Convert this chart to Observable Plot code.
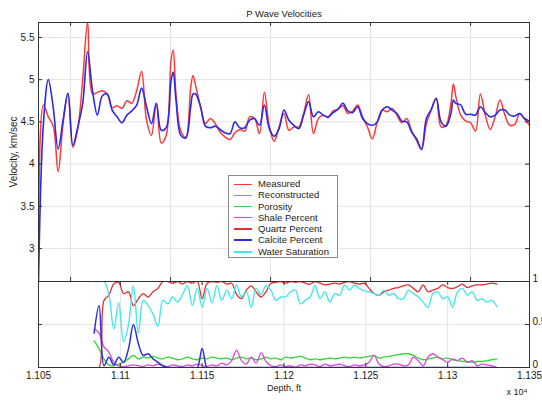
<!DOCTYPE html>
<html><head><meta charset="utf-8">
<script src="https://cdn.jsdelivr.net/npm/d3@7"></script>
<script src="https://cdn.jsdelivr.net/npm/@observablehq/plot@0.6"></script>
<style>
body{margin:0;background:#fff;}
#chart{position:relative;width:542px;height:400px;font-family:"Liberation Sans",Arial,sans-serif;overflow:hidden;}
#chart svg{display:block;}
.legend{position:absolute;left:228px;top:175px;width:108px;height:81px;border:1px solid #8a8a8a;background:#fff;}
.row{position:absolute;left:0;height:12px;width:106px;font-size:9.5px;line-height:12px;color:#222;}
.sw{position:absolute;left:5px;width:18px;height:0;}
.lb{position:absolute;left:29px;top:0;white-space:nowrap;}
</style></head><body><div id="chart"></div>
<script>
// ---- top panel: P wave velocity (depth in ft) ----
const depthTop = [11050,11053,11056,11059,11062,11065,11068,11071,11074,11077,11080,11083,11086,11089,11092,11095,11098,11101,11104,11107,11110,11113,11116,11119,11122,11125,11128,11131,11132.3,11134,11137,11140,11143,11144.4,11146,11149,11152,11155,11158,11161,11164,11167,11170,11173,11176,11179,11182,11185,11188,11191,11194,11197,11200,11203,11206,11209,11212,11215,11218,11221,11224,11227,11230,11233,11236,11239,11242,11245,11248,11251,11254,11257,11260,11263,11266,11269,11272,11275,11278,11281,11284,11287,11290,11293,11296,11299,11302,11303.5,11305,11308,11311,11314,11317,11320,11323,11326,11329,11332,11335,11338,11341,11344,11347,11350];
const measured = [3.12,4.70,4.56,4.45,3.91,4.48,4.84,4.20,4.42,5.00,
5.68,4.83,4.85,4.87,4.83,4.67,4.69,4.66,4.75,4.72,
4.87,5.10,4.52,4.34,4.72,4.25,4.34,5.23,5.35,
4.83,4.39,4.32,4.91,5.05,
4.93,4.68,4.48,4.54,4.48,4.38,4.32,4.29,
4.37,4.41,4.39,4.56,4.54,4.36,4.85,4.45,4.27,4.44,
4.60,4.40,4.44,4.44,4.60,4.82,4.36,4.54,4.58,4.55,
4.63,4.65,4.69,4.60,4.63,4.70,4.56,4.44,4.30,4.50,
4.64,4.62,4.66,4.58,4.49,4.54,4.39,4.28,4.17,4.48,
4.64,4.78,4.44,4.46,4.72,4.95,
4.80,4.58,4.51,4.49,4.39,
4.83,4.58,4.41,4.56,4.76,4.58,4.46,4.47,4.60,4.53,4.46];
const reconstructed = [2.62,4.48,5.00,4.67,4.18,4.52,4.84,4.22,4.44,4.72,
5.33,4.87,4.58,4.81,4.83,4.64,4.56,4.49,4.58,4.63,
4.70,4.90,4.68,4.48,4.72,4.40,4.43,4.99,5.09,
4.76,4.34,4.31,4.68,4.83,
4.83,4.68,4.45,4.43,4.45,4.41,4.37,4.36,
4.50,4.43,4.43,4.52,4.54,4.46,4.70,4.42,4.33,4.42,
4.64,4.52,4.46,4.42,4.58,4.74,4.56,4.62,4.58,4.56,
4.61,4.65,4.72,4.63,4.61,4.68,4.54,4.48,4.46,4.50,
4.64,4.68,4.64,4.60,4.51,4.50,4.38,4.30,4.18,4.54,
4.65,4.78,4.50,4.45,4.60,4.76,
4.72,4.70,4.59,4.59,4.58,
4.68,4.61,4.56,4.58,4.64,4.64,4.58,4.57,4.60,4.54,4.51];

// ---- bottom panel: log fractions ----
const depthLog = [11084,11087,11090,11093,11096,11099,11102,11105,11108,11111,
11114,11117,11120,11123,11126,11129,11132,11135,11138,11141,
11144,11147,11150,11153,11156,11159,11162,11165,11168,11171,
11174,11177,11180,11183,11186,11189,11192,11195,11198,11201,
11204,11207,11210,11213,11216,11219,11222,11225,11228,11231,
11234,11237,11240,11243,11246,11249,11252,11255,11258,11261,
11264,11267,11270,11273,11276,11279,11282,11285,11288,11291,
11294,11297,11300,11303,11306,11309,11312,11315,11318,11321,
11324,11327,11330];
const porosity = [0.31,0.22,0.10,0.03,0.02,0.04,0.06,0.10,0.14,0.10,
0.12,0.11,0.13,0.11,0.10,0.12,0.11,0.09,0.10,0.12,
0.10,0.09,0.11,0.10,0.12,0.11,0.10,0.11,0.09,0.11,
0.12,0.10,0.11,0.09,0.10,0.12,0.10,0.11,0.09,0.12,
0.11,0.12,0.13,0.11,0.09,0.10,0.09,0.10,0.11,0.10,
0.11,0.12,0.11,0.12,0.11,0.12,0.13,0.14,0.11,0.12,
0.13,0.14,0.15,0.16,0.16,0.14,0.11,0.09,0.10,0.11,
0.12,0.10,0.11,0.09,0.08,0.07,0.07,0.06,0.07,0.07,
0.08,0.09,0.10];
const shale = [0.45,0.40,0.24,0.18,0.06,0.02,0.01,0.02,0.03,0.02,
0.01,0.03,0.02,0.04,0.02,0.01,0.03,0.02,0.01,0.03,
0.02,0.04,0.02,0.01,0.03,0.02,0.05,0.03,0.08,0.20,
0.08,0.04,0.12,0.05,0.17,0.07,0.02,0.01,0.03,0.01,
0.02,0.00,0.03,0.02,0.04,0.03,0.01,0.04,0.02,0.03,
0.04,0.02,0.01,0.03,0.02,0.03,0.06,0.14,0.04,0.01,
0.02,0.04,0.04,0.02,0.03,0.12,0.08,0.02,0.12,0.16,
0.12,0.09,0.06,0.10,0.08,0.11,0.06,0.08,0.02,0.04,
0.03,0.02,0.00];
const quartz = [0,0,0.78,0.84,0.97,0.99,0.86,0.88,0.72,0.80,
0.86,0.82,0.88,0.92,1,1,0.98,1,0.97,1,
0.98,1,0.80,0.98,1,0.99,1,0.97,0.98,0.85,
0.80,0.90,0.95,0.88,0.82,0.88,0.98,0.99,1,0.98,
1,0.99,1,0.98,0.97,1,0.98,0.96,0.97,0.98,
0.97,0.99,1,0.98,0.97,0.98,0.92,0.86,0.84,0.88,
0.90,0.92,0.93,0.95,0.96,0.92,0.88,0.96,0.88,0.90,
0.92,0.96,0.93,0.92,0.94,0.97,0.93,0.95,0.96,0.96,
0.97,0.98,0.97];
const calcite = [0.40,0.72,0.02,0.12,0.03,0.12,0.06,0.22,0.50,0.28,
0.14,0.16,0.10,0.06,0.02,0,0,0,0,0,
0,0,0.22,0,0,0,0,0,0,0,
0,0,0,0,0,0,0,0,0,0,
0,0,0,0,0,0,0,0,0,0,
0,0,0,0,0,0,0,0,0,0,
0,0,0,0,0,0,0,0,0,0,
0,0,0,0,0,0,0,0,0,0,
0,0,0];
const water = [1,1,1,0.85,0.45,0.75,0.30,0.50,0.95,0.40,
0.78,0.72,0.62,0.48,0.78,0.74,0.82,0.76,0.85,0.95,
0.72,0.92,0.70,0.92,0.75,0.95,0.78,0.90,0.80,0.96,
0.82,0.88,0.70,0.92,0.85,0.95,0.90,0.78,0.82,0.82,
0.88,0.90,0.74,0.78,0.82,0.95,0.80,0.88,0.76,0.86,
0.84,0.96,0.90,0.96,0.92,0.89,0.88,0.86,0.84,0.90,
0.84,0.86,0.80,0.80,0.90,0.86,0.82,0.76,0.70,0.86,
0.88,0.80,0.82,0.70,0.88,0.92,0.84,0.88,0.78,0.80,
0.76,0.78,0.71];

// ---- ticks ----
const velocityTicks = [3, 3.5, 4, 4.5, 5, 5.5];
const velocityTickLabels = ["3", "3.5", "4", "4.5", "5", "5.5"];
const topGridDepths = [11069.6, 11130.7, 11191.8, 11252.9, 11314.0];
const depthTicks = [11050, 11100, 11150, 11200, 11250, 11300, 11350];
const depthTickLabels = ["1.105", "1.11", "1.115", "1.12", "1.125", "1.13", "1.135"];
const fractionTicks = [0, 0.5, 1];
const fractionTickLabels = ["0", "0.5", "1"];

// ---- legend ----
const legendNames = ["Measured", "Reconstructed", "Porosity", "Shale Percent", "Quartz Percent", "Calcite Percent", "Water Saturation"];
const legendColors = ["#ff3838", "#8c8cff", "#33d633", "#dd44dd", "#dd3030", "#2e2ee0", "#44e8ee"];
const legendWidths = [1, 1, 1.5, 1, 2, 2, 2];

const W = 542, ML = 38, MR = 13;
const frameW = W - ML - MR;
const topH = 281, topMT = 22, topFrameH = topH - topMT;
const botH = 119, botMB = 33, botFrameH = botH - botMB;
const T = 4;
const gridColor = "#e4e4e4", axisColor = "#333";
const font = {fontFamily: "Liberation Sans, Arial, sans-serif", fontSize: "10px", color: "#1a1a1a", background: "transparent", overflow: "visible"};

const topRows = depthTop.map((d, i) => ({d, m: measured[i], r: reconstructed[i]}));

const topPlot = Plot.plot({
  width: W, height: topH, marginLeft: ML, marginRight: MR, marginTop: topMT, marginBottom: 0,
  style: font,
  x: {domain: [11050, 11350], axis: null},
  y: {domain: [2.61, 5.677]},
  marks: [
    Plot.ruleX(topGridDepths, {stroke: gridColor}),
    Plot.ruleY(velocityTicks, {stroke: gridColor}),
    Plot.line(topRows, {x: "d", y: "m", stroke: legendColors[0], strokeWidth: 1.5, curve: "catmull-rom", clip: true}),
    Plot.line(topRows, {x: "d", y: "r", stroke: "#2a2ae8", strokeWidth: 1.6, curve: "catmull-rom", clip: true}),
    Plot.ruleY(velocityTicks, {stroke: axisColor, insetRight: frameW - T}),
    Plot.ruleY(velocityTicks, {stroke: axisColor, insetLeft: frameW - T}),
    Plot.ruleX(topGridDepths, {stroke: axisColor, insetBottom: topFrameH - T}),
    Plot.ruleX(topGridDepths, {stroke: axisColor, insetTop: topFrameH - T}),
    Plot.axisY({ticks: velocityTicks, tickFormat: d => velocityTickLabels[velocityTicks.indexOf(d)],
      tickSize: 0, tickPadding: 4, fontSize: 10,
      label: "Velocity, km/sec", labelAnchor: "center", labelArrow: "none", labelOffset: 29}),
    Plot.frame({stroke: axisColor}),
    Plot.text(["P Wave Velocities"], {text: d => d, frameAnchor: "top", dy: -12, fontSize: 9.5, fill: "#1a1a1a"})
  ]
});

const line = (vals, color, w) =>
  Plot.line(depthLog.map((d, i) => [d, vals[i]]), {stroke: color, strokeWidth: w, curve: "catmull-rom", clip: true});

const botPlot = Plot.plot({
  width: W, height: botH, marginLeft: ML, marginRight: MR, marginTop: 0, marginBottom: botMB,
  style: font,
  x: {domain: [11050, 11350]},
  y: {domain: [0, 1]},
  marks: [
    Plot.ruleX(depthTicks.slice(1, -1), {stroke: gridColor}),
    Plot.ruleY([0.5], {stroke: gridColor}),
    line(porosity, legendColors[2], 1.3),
    line(shale, legendColors[3], 1.3),
    line(quartz, legendColors[4], 1.3),
    line(calcite, legendColors[5], 1.5),
    line(water, legendColors[6], 1.4),
    Plot.ruleY(fractionTicks, {stroke: axisColor, insetRight: frameW - T}),
    Plot.ruleY(fractionTicks, {stroke: axisColor, insetLeft: frameW - T}),
    Plot.ruleX(depthTicks, {stroke: axisColor, insetTop: botFrameH - T}),
    Plot.ruleX(depthTicks, {stroke: axisColor, insetBottom: botFrameH - T}),
    Plot.axisX({ticks: depthTicks, tickFormat: d => depthTickLabels[depthTicks.indexOf(d)],
      tickSize: 0, tickPadding: 4, fontSize: 10, label: null}),
    Plot.axisY({anchor: "right", ticks: fractionTicks, tickFormat: d => fractionTickLabels[fractionTicks.indexOf(d)],
      tickSize: 0, tickPadding: 3, fontSize: 10, dy: -3, label: null}),
    Plot.frame({stroke: axisColor}),
    Plot.text(["Depth, ft"], {text: d => d, frameAnchor: "bottom", dy: 23, fontSize: 9, fill: "#1a1a1a"}),
    Plot.text(["x 10\u2074"], {text: d => d, frameAnchor: "bottom-right", dy: 27, dx: -2, textAnchor: "end", fontSize: 9, fill: "#1a1a1a"})
  ]
});

const chart = document.getElementById("chart");
chart.append(topPlot, botPlot);

const legend = document.createElement("div");
legend.className = "legend";
legendNames.forEach((name, i) => {
  const row = document.createElement("div");
  row.className = "row";
  row.style.top = (2 + i * 11.25) + "px";
  const sw = document.createElement("span");
  sw.className = "sw";
  sw.style.borderTop = legendWidths[i] + "px solid " + legendColors[i];
  sw.style.top = (6 - legendWidths[i] / 2) + "px";
  const lb = document.createElement("span");
  lb.className = "lb";
  lb.textContent = name;
  row.append(sw, lb);
  legend.append(row);
});
chart.append(legend);
</script></body></html>
